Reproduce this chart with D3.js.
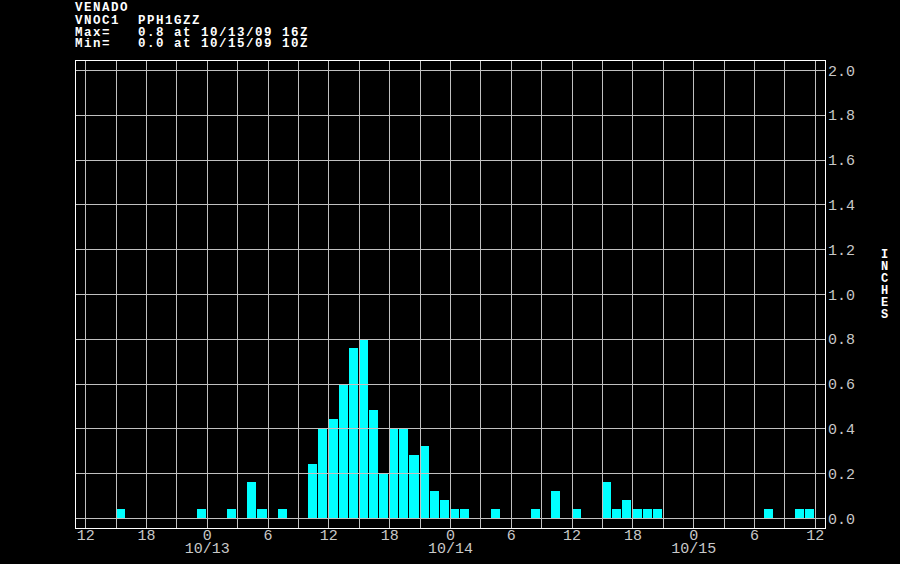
<!DOCTYPE html>
<html>
<head>
<meta charset="utf-8">
<script src="https://cdn.jsdelivr.net/npm/d3@7"></script>
<style>
  html, body { margin: 0; padding: 0; background: #000; }
  svg { display: block; }
  text { white-space: pre; }
</style>
</head>
<body>
<svg id="chart" width="900" height="564"></svg>
<script>
// ---- data ----
const headerLines = ["VENADO", "VNOC1  PPH1GZZ", "Max=   0.8 at 10/13/09 16Z", "Min=   0.0 at 10/15/09 10Z"];
const axisLabel = "INCHES";
const firstHourEnding = "2009-10-12T12:00Z";   // hour-ending time of the first value
// hourly precipitation (inches), hour-ending, from 10/12 12Z to 10/15 12Z
const precip = [
  0, 0, 0, 0, 0.04, 0, 0, 0, 0, 0, 0, 0,             // 10/12 12Z..23Z
  0.04, 0, 0, 0.04, 0, 0.16, 0.04, 0, 0.04, 0, 0, 0.24, // 10/13 00Z..11Z
  0.40, 0.44, 0.60, 0.76, 0.80, 0.48, 0.20, 0.40, 0.40, 0.28, 0.32, 0.12, // 10/13 12Z..23Z
  0.08, 0.04, 0.04, 0, 0, 0.04, 0, 0, 0, 0.04, 0, 0.12, // 10/14 00Z..11Z
  0, 0.04, 0, 0, 0.16, 0.04, 0.08, 0.04, 0.04, 0.04, 0, 0, // 10/14 12Z..23Z
  0, 0, 0, 0, 0, 0, 0, 0, 0.04, 0, 0, 0.04,           // 10/15 00Z..11Z
  0.04                                                 // 10/15 12Z
];
const yTicks = [0.0, 0.2, 0.4, 0.6, 0.8, 1.0, 1.2, 1.4, 1.6, 1.8, 2.0];
const xDomain = ["2009-10-12T11:00Z", "2009-10-15T13:00Z"];
const dateLabels = ["10/13", "10/14", "10/15"];

// ---- layout ----
const svg = d3.select("#chart");
const HOUR = 3600 * 1000;
const x = d3.scaleUtc().domain(xDomain.map(d => new Date(d))).range([75.5, 825.5]);
const y = d3.scaleLinear().domain([0, 2]).range([518.5, 70.5]);
const px = v => Math.floor(v) + 0.5;
const frameLeft = px(x.range()[0]), frameRight = px(x.range()[1]);
const frameTop = px(y(2) - 10), frameBottom = px(y(0) + 10);

const gridColor = "#c0c0c0";
const labelColor = "#c8c8c8";
const barColor = "#00ffff";
const mono = "'Liberation Mono', 'DejaVu Sans Mono', monospace";

svg.append("rect").attr("width", 900).attr("height", 564).attr("fill", "#000");

const t0 = new Date(firstHourEnding);
const series = precip.map((v, i) => ({ t: new Date(t0.getTime() + i * HOUR), v }));

// baseline (cyan)
svg.append("line")
  .attr("x1", frameLeft).attr("x2", px(x(series[series.length - 1].t)))
  .attr("y1", px(y(0))).attr("y2", px(y(0)))
  .attr("stroke", barColor).attr("stroke-width", 1).attr("shape-rendering", "crispEdges");

// bars (hour-ending)
svg.append("g").selectAll("rect")
  .data(series.filter(d => d.v > 0))
  .join("rect")
  .attr("x", d => Math.floor(x(new Date(d.t.getTime() - HOUR))))
  .attr("width", d => Math.floor(x(d.t)) - Math.floor(x(new Date(d.t.getTime() - HOUR))) - 1)
  .attr("y", d => Math.floor(y(d.v)))
  .attr("height", d => Math.floor(y(0)) + 1 - Math.floor(y(d.v)))
  .attr("fill", barColor)
  .attr("shape-rendering", "crispEdges");

// grid (drawn over bars)
const grid = svg.append("g").attr("stroke", gridColor).attr("stroke-width", 1).attr("shape-rendering", "crispEdges");
const vTicks = x.ticks(d3.utcHour.every(3)).filter(d => x(d) > x.range()[0] + 2 && x(d) < x.range()[1] - 2);
grid.selectAll("line.v").data(vTicks).join("line").attr("class", "v")
  .attr("x1", d => px(x(d))).attr("x2", d => px(x(d)))
  .attr("y1", frameTop).attr("y2", frameBottom);
grid.selectAll("line.h").data(yTicks).join("line").attr("class", "h")
  .attr("x1", frameLeft).attr("x2", frameRight)
  .attr("y1", d => px(y(d))).attr("y2", d => px(y(d)));

// frame
svg.append("rect")
  .attr("x", frameLeft).attr("y", frameTop)
  .attr("width", frameRight - frameLeft).attr("height", frameBottom - frameTop)
  .attr("fill", "none").attr("stroke", "#ffffff").attr("stroke-width", 1)
  .attr("shape-rendering", "crispEdges");

// x tick labels (every 6 h)
const labelTicks = x.ticks(d3.utcHour.every(6)).filter(d => x(d) > x.range()[0] + 2 && x(d) < x.range()[1] - 2);
svg.append("g").selectAll("text").data(labelTicks).join("text")
  .attr("x", d => x(d)).attr("y", 540)
  .attr("text-anchor", "middle")
  .attr("font-family", mono).attr("font-size", 15)
  .attr("fill", labelColor)
  .text(d => String(d.getUTCHours()));

// date labels under 0Z
const midnights = labelTicks.filter(d => d.getUTCHours() === 0);
svg.append("g").selectAll("text").data(midnights).join("text")
  .attr("x", d => x(d)).attr("y", 552.5)
  .attr("text-anchor", "middle")
  .attr("font-family", mono).attr("font-size", 15)
  .attr("fill", labelColor)
  .text((d, i) => dateLabels[i]);

// y tick labels on right
svg.append("g").selectAll("text").data(yTicks).join("text")
  .attr("x", 828).attr("y", d => y(d) + 5)
  .attr("font-family", mono).attr("font-size", 15)
  .attr("fill", labelColor)
  .text(d => d.toFixed(1));

// header
const headerY = [11, 23.5, 35.5, 47];
svg.append("g").selectAll("text").data(headerLines).join("text")
  .attr("x", 75).attr("y", (d, i) => headerY[i])
  .attr("font-family", mono).attr("font-size", 12.5).attr("font-weight", "bold")
  .attr("letter-spacing", 1.5)
  .attr("fill", "#ffffff")
  .text(d => d);

// vertical axis title
svg.append("g").selectAll("text").data(axisLabel.split("")).join("text")
  .attr("x", 884.5).attr("y", (d, i) => 258 + i * 12)
  .attr("text-anchor", "middle")
  .attr("font-family", mono).attr("font-size", 12).attr("font-weight", "bold")
  .attr("fill", "#ffffff")
  .text(d => d);
</script>
</body>
</html>
